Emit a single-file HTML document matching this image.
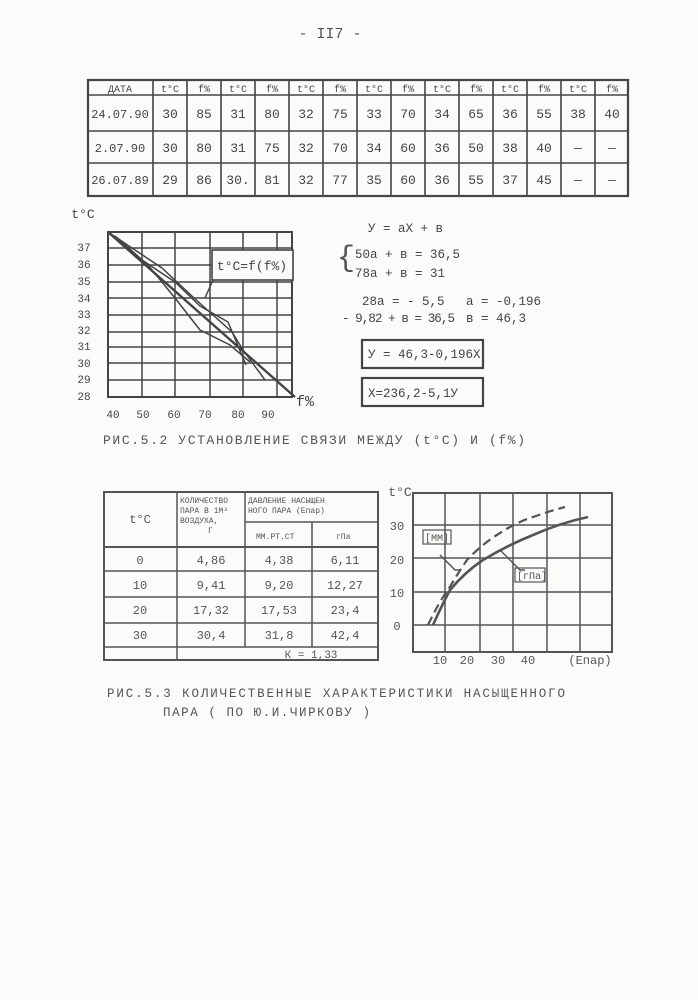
<!DOCTYPE html>
<html><head><meta charset="utf-8"><style>
html,body{margin:0;padding:0;background:#fbfbf9;}
svg{display:block;font-family:"Liberation Mono","DejaVu Sans Mono",monospace;}
</style></head><body>
<svg width="698" height="1000" viewBox="0 0 698 1000" xmlns="http://www.w3.org/2000/svg">
<rect width="698" height="1000" fill="#fbfbf9"/>
<text x="330" y="38" font-size="15" fill="#555" text-anchor="middle">- II7 -</text>

<!-- top table -->
<g stroke="#444" stroke-width="1.6" fill="none">
<rect x="88" y="80" width="540" height="116" stroke-width="2.2"/>
<line x1="88" y1="95" x2="628" y2="95"/>
<line x1="88" y1="131" x2="628" y2="131"/>
<line x1="88" y1="163" x2="628" y2="163"/>
<line x1="153" y1="80" x2="153" y2="196"/>
<line x1="187" y1="80" x2="187" y2="196"/><line x1="221" y1="80" x2="221" y2="196"/>
<line x1="255" y1="80" x2="255" y2="196"/><line x1="289" y1="80" x2="289" y2="196"/>
<line x1="323" y1="80" x2="323" y2="196"/><line x1="357" y1="80" x2="357" y2="196"/>
<line x1="391" y1="80" x2="391" y2="196"/><line x1="425" y1="80" x2="425" y2="196"/>
<line x1="459" y1="80" x2="459" y2="196"/><line x1="493" y1="80" x2="493" y2="196"/>
<line x1="527" y1="80" x2="527" y2="196"/><line x1="561" y1="80" x2="561" y2="196"/>
<line x1="595" y1="80" x2="595" y2="196"/>
</g>
<g font-size="10" fill="#444" text-anchor="middle">
<text x="120" y="92">ДАТА</text>
<text x="170" y="92">t°C</text><text x="204" y="92">f%</text>
<text x="238" y="92">t°C</text><text x="272" y="92">f%</text>
<text x="306" y="92">t°C</text><text x="340" y="92">f%</text>
<text x="374" y="92">t°C</text><text x="408" y="92">f%</text>
<text x="442" y="92">t°C</text><text x="476" y="92">f%</text>
<text x="510" y="92">t°C</text><text x="544" y="92">f%</text>
<text x="578" y="92">t°C</text><text x="612" y="92">f%</text>
</g>
<g font-size="12" fill="#444" text-anchor="middle">
<text x="120" y="118">24.07.90</text><text x="120" y="152">2.07.90</text><text x="120" y="184">26.07.89</text>
</g>
<g font-size="13" fill="#444" text-anchor="middle">
<text x="170" y="118">30</text><text x="204" y="118">85</text><text x="238" y="118">31</text><text x="272" y="118">80</text><text x="306" y="118">32</text><text x="340" y="118">75</text><text x="374" y="118">33</text><text x="408" y="118">70</text><text x="442" y="118">34</text><text x="476" y="118">65</text><text x="510" y="118">36</text><text x="544" y="118">55</text><text x="578" y="118">38</text><text x="612" y="118">40</text>
<text x="170" y="152">30</text><text x="204" y="152">80</text><text x="238" y="152">31</text><text x="272" y="152">75</text><text x="306" y="152">32</text><text x="340" y="152">70</text><text x="374" y="152">34</text><text x="408" y="152">60</text><text x="442" y="152">36</text><text x="476" y="152">50</text><text x="510" y="152">38</text><text x="544" y="152">40</text><text x="578" y="152">—</text><text x="612" y="152">—</text>
<text x="170" y="184">29</text><text x="204" y="184">86</text><text x="238" y="184">30.</text><text x="272" y="184">81</text><text x="306" y="184">32</text><text x="340" y="184">77</text><text x="374" y="184">35</text><text x="408" y="184">60</text><text x="442" y="184">36</text><text x="476" y="184">55</text><text x="510" y="184">37</text><text x="544" y="184">45</text><text x="578" y="184">—</text><text x="612" y="184">—</text>
</g>

<!-- chart 1 -->
<g stroke="#444" stroke-width="1.5" fill="none">
<rect x="108" y="232" width="184" height="165" stroke-width="2"/>
<line x1="142" y1="232" x2="142" y2="397"/><line x1="175" y1="232" x2="175" y2="397"/>
<line x1="210" y1="232" x2="210" y2="397"/><line x1="243" y1="232" x2="243" y2="397"/>
<line x1="277" y1="232" x2="277" y2="397"/>
<line x1="108" y1="248" x2="292" y2="248"/><line x1="108" y1="265" x2="292" y2="265"/>
<line x1="108" y1="282" x2="292" y2="282"/><line x1="108" y1="298" x2="292" y2="298"/>
<line x1="108" y1="315" x2="292" y2="315"/><line x1="108" y1="332" x2="292" y2="332"/>
<line x1="108" y1="347" x2="292" y2="347"/><line x1="108" y1="363" x2="292" y2="363"/>
<line x1="108" y1="380" x2="292" y2="380"/>
<line x1="108" y1="232" x2="295" y2="397" stroke-width="2.4"/>
<polyline points="108,232 162,268 194,298 232,332 243,350 265,380"/>
<polyline points="112,235 142,260 175,282 200,306 228,322 246,365"/>
<polyline points="115,236 148,265 175,298 200,330 230,345 250,362"/>
<polyline points="213,280 205,298"/>
</g>
<rect x="212" y="250" width="81" height="30" fill="#fbfbf9" stroke="#444" stroke-width="1.6"/>
<text x="252" y="270" font-size="13" fill="#444" text-anchor="middle">t°C=f(f%)</text>
<g font-size="11" fill="#444" text-anchor="middle">
<text x="83" y="218" font-size="13">t°C</text>
<text x="84" y="251">37</text><text x="84" y="268">36</text><text x="84" y="285">35</text><text x="84" y="302">34</text><text x="84" y="318">33</text><text x="84" y="334">32</text><text x="84" y="350">31</text><text x="84" y="367">30</text><text x="84" y="383">29</text><text x="84" y="400">28</text>
<text x="113" y="418">40</text><text x="143" y="418">50</text><text x="174" y="418">60</text><text x="205" y="418">70</text><text x="238" y="418">80</text><text x="268" y="418">90</text>
<text x="305" y="406" font-size="15">f%</text>
</g>
<g font-size="12.5" fill="#444">
<text x="368" y="232">У = аХ + в</text>
<text x="337" y="266" font-size="30" fill="#555">{</text>
<text x="355" y="258">50а + в = 36,5</text>
<text x="355" y="277">78а + в = 31</text>
<text x="362" y="305">28а = - 5,5</text>
<text x="466" y="305">а = -0,196</text>
<text x="342" y="322" textLength="113">- 9,82 + в = 36,5</text>
<text x="466" y="322">в = 46,3</text>
<text x="368" y="358">У = 46,3-0,196Х</text>
<text x="368" y="397">Х=236,2-5,1У</text>
</g>
<rect x="362" y="340" width="121" height="28" fill="none" stroke="#444" stroke-width="2.2"/>
<rect x="362" y="378" width="121" height="28" fill="none" stroke="#444" stroke-width="2.2"/>
<text x="103" y="444" font-size="13" fill="#555" textLength="422" lengthAdjust="spacing">РИС.5.2 УСТАНОВЛЕНИЕ  СВЯЗИ  МЕЖДУ  (t°C) И (f%)</text>

<!-- bottom table -->
<g stroke="#555" stroke-width="1.5" fill="none">
<rect x="104" y="492" width="274" height="168" stroke-width="2"/>
<line x1="177" y1="492" x2="177" y2="660"/>
<line x1="245" y1="492" x2="245" y2="647"/>
<line x1="312" y1="522" x2="312" y2="647"/>
<line x1="245" y1="522" x2="378" y2="522"/>
<line x1="104" y1="547" x2="378" y2="547" stroke-width="2"/>
<line x1="104" y1="571" x2="378" y2="571"/>
<line x1="104" y1="597" x2="378" y2="597"/>
<line x1="104" y1="623" x2="378" y2="623"/>
<line x1="104" y1="647" x2="378" y2="647"/>
</g>
<g font-size="8" fill="#555">
<text x="180" y="503">КОЛИЧЕСТВО</text><text x="180" y="513">ПАРА В 1М³</text><text x="180" y="523">ВОЗДУХА,</text><text x="208" y="533">Г</text>
<text x="248" y="503">ДАВЛЕНИЕ НАСЫЩЕН</text><text x="248" y="513">НОГО ПАРА (Епар)</text>
<text x="256" y="539">ММ.РТ.СТ</text><text x="336" y="539">гПа</text>
</g>
<g font-size="12" fill="#555" text-anchor="middle">
<text x="140" y="523">t°C</text>
<text x="140" y="564">0</text><text x="211" y="564">4,86</text><text x="279" y="564">4,38</text><text x="345" y="564">6,11</text>
<text x="140" y="589">10</text><text x="211" y="589">9,41</text><text x="279" y="589">9,20</text><text x="345" y="589">12,27</text>
<text x="140" y="614">20</text><text x="211" y="614">17,32</text><text x="279" y="614">17,53</text><text x="345" y="614">23,4</text>
<text x="140" y="639">30</text><text x="211" y="639">30,4</text><text x="279" y="639">31,8</text><text x="345" y="639">42,4</text>
<text x="311" y="658" font-size="11">К = 1,33</text>
</g>

<!-- chart 2 -->
<g stroke="#555" stroke-width="1.5" fill="none">
<rect x="413" y="493" width="199" height="159" stroke-width="2"/>
<line x1="445" y1="493" x2="445" y2="652"/><line x1="480" y1="493" x2="480" y2="652"/>
<line x1="513" y1="493" x2="513" y2="652"/><line x1="547" y1="493" x2="547" y2="652"/>
<line x1="580" y1="493" x2="580" y2="652"/>
<line x1="413" y1="525" x2="612" y2="525"/><line x1="413" y1="558" x2="612" y2="558"/>
<line x1="413" y1="592" x2="612" y2="592"/><line x1="413" y1="625" x2="612" y2="625"/>
<path d="M428,625 Q440,600 448,590 Q458,573 467,560 Q482,544 500,533 Q517,522 533,517 Q550,511 565,507" stroke-width="2.2" stroke-dasharray="9,5"/>
<path d="M433,625 Q442,605 450,590 Q465,572 483,560 Q508,545 533,535 Q560,523 588,517" stroke-width="2.6"/>
<polyline points="440,555 455,570 460,570"/>
<polyline points="500,550 520,570 525,570"/>
</g>
<rect x="423" y="530" width="28" height="14" fill="none" stroke="#555" stroke-width="1.2"/>
<rect x="515" y="568" width="30" height="14" fill="none" stroke="#555" stroke-width="1.2"/>
<g font-size="10" fill="#555">
<text x="425" y="541">[ММ]</text><text x="517" y="579">[гПа]</text>
</g>
<g font-size="12" fill="#555" text-anchor="middle">
<text x="400" y="496" font-size="13">t°C</text>
<text x="397" y="530">30</text><text x="397" y="564">20</text><text x="397" y="597">10</text><text x="397" y="630">0</text>
<text x="440" y="664">10</text><text x="467" y="664">20</text><text x="498" y="664">30</text><text x="528" y="664">40</text>
<text x="590" y="664">(Eпар)</text>
</g>
<text x="107" y="697" font-size="12.5" fill="#555" textLength="458" lengthAdjust="spacing">РИС.5.3 КОЛИЧЕСТВЕННЫЕ  ХАРАКТЕРИСТИКИ  НАСЫЩЕННОГО</text>
<text x="163" y="716" font-size="12.5" fill="#555" textLength="207" lengthAdjust="spacing">ПАРА  ( ПО  Ю.И.ЧИРКОВУ )</text>
</svg>
</body></html>
